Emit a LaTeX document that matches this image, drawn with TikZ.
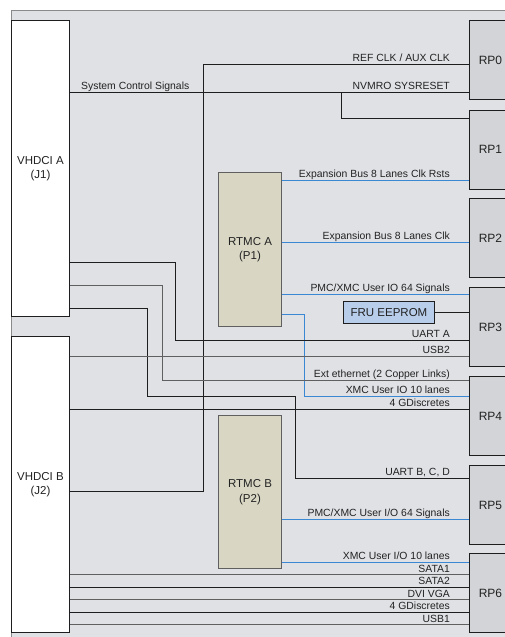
\documentclass[tikz,border=0pt]{standalone}
\usepackage{fontspec}
\setmainfont{Liberation Sans}
\definecolor{bgc}{HTML}{E0E1E5}
\definecolor{framec}{HTML}{8A8A8A}
\definecolor{rpc}{HTML}{D3D4D7}
\definecolor{rtc}{HTML}{D9D7C4}
\definecolor{fruc}{HTML}{B8CDEA}
\definecolor{bluec}{HTML}{3A88D4}
\definecolor{txtc}{HTML}{222222}
\definecolor{linek}{HTML}{1E1E1E}
\definecolor{lineg}{HTML}{606060}
\begin{document}
\begin{tikzpicture}[x=1pt,y=-1pt,
  boxw/.style={draw=linek, line width=0.9pt, fill=white, anchor=north west, inner sep=0pt, align=center, text=txtc, font=\fontsize{11.5}{14}\selectfont},
  rpbox/.style={draw=linek, line width=0.9pt, fill=rpc, anchor=north west, inner sep=0pt, minimum width=42pt, minimum height=79pt, text=txtc, font=\fontsize{12}{14}\selectfont},
  rtbox/.style={draw=lineg, line width=1pt, fill=rtc, anchor=north west, inner sep=0pt, minimum width=63pt, align=center, text=txtc, font=\fontsize{11.5}{14.5}\selectfont},
  frubox/.style={draw=linek, line width=0.9pt, fill=fruc, anchor=north west, inner sep=0pt, minimum width=91pt, minimum height=22pt, text=txtc, font=\fontsize{11.5}{14}\selectfont},
  lab/.style={anchor=base east, inner sep=0pt, text=txtc, font=\fontsize{10.4}{12}\selectfont},
  sigk/.style={draw=linek, line width=0.8pt},
  sigg/.style={draw=lineg, line width=1pt},
  sigb/.style={draw=bluec, line width=0.9pt}]
\useasboundingbox (0,0) rectangle (505,637);
\clip (0,0) rectangle (505,637);
% background frame
\fill[bgc] (11,10) rectangle (520,650);
\draw[framec, line width=1pt] (11,650) -- (11,10) -- (520,10);

% connectors J1/J2
\node[boxw, minimum width=58pt, minimum height=296pt] (vA) at (11,20) {VHDCI A\\(J1)};
\node[boxw, minimum width=58pt, minimum height=296pt] (vB) at (11,336) {VHDCI B\\(J2)};

% RP boxes
\node[rpbox] (rp0) at (469,20) {RP0};
\node[rpbox] (rp1) at (469,109.5) {RP1};
\node[rpbox] (rp2) at (469,198) {RP2};
\node[rpbox] (rp3) at (469,287) {RP3};
\node[rpbox] (rp4) at (469,376) {RP4};
\node[rpbox] (rp5) at (469,465) {RP5};
\node[rpbox] (rp6) at (469,553) {RP6};

% RTMC boxes
\node[rtbox, minimum height=154pt] (rtA) at (218,172) {RTMC A\\(P1)};
\node[rtbox, minimum height=153pt] (rtB) at (218,415) {RTMC B\\(P2)};

% FRU
\node[frubox] (fru) at (343,301) {FRU EEPROM};

% ---- signals ----
\draw[sigk] (vB.east |- 0,491) -| (203,64) -- (rp0.west |- 0,64);
\node[lab] (l1) at (450,61) {REF CLK / AUX CLK};

\draw[sigk] (vA.east |- 0,92) -- (rp0.west |- 0,92);
\node[lab, anchor=base west] (l2) at (81,89) {System Control Signals};
\node[lab] (l3) at (450,89) {NVMRO SYSRESET};
\coordinate (br) at (341,92);
\draw[sigk] (br) |- (rp1.west |- 0,118);

\draw[sigb] (rtA.east |- 0,180) -- (rp1.west |- 0,180);
\node[lab] (l4) at (450,177) {Expansion Bus 8 Lanes Clk Rsts};

\draw[sigb] (rtA.east |- 0,242) -- (rp2.west |- 0,242);
\node[lab] (l5) at (450,239) {Expansion Bus 8 Lanes Clk};

\draw[sigb] (rtA.east |- 0,294) -- (rp3.west |- 0,294);
\node[lab] (l6) at (450,291) {PMC/XMC User IO 64 Signals};

\draw[sigk] (fru.east) -- (rp3.west |- fru.east);

\draw[sigb] (rtA.east |- 0,314) -- (304,314) |- (rp4.west |- 0,396);
\node[lab] (l7) at (450,393) {XMC User IO 10 lanes};

\draw[sigk] (vA.east |- 0,262) -- (175,262) |- (rp3.west |- 0,340);
\node[lab] (l8) at (450,337) {UART A};

\draw[sigg] (vA.east |- 0,285) -- (162,285) |- (rp4.west |- 0,380);
\node[lab] (l9) at (450,377) {Ext ethernet (2 Copper Links)};

\draw[sigk] (vA.east |- 0,308) -- (147,308) |- (295,396) |- (rp5.west |- 0,478);
\node[lab] (l10) at (450,475) {UART B, C, D};

\draw[sigg] (vB.east |- 0,356) -- (rp3.west |- 0,356);
\node[lab] (l11) at (450,353) {USB2};

\draw[sigk] (vB.east |- 0,409) -- (rp4.west |- 0,409);
\node[lab] (l12) at (450,406) {4 GDiscretes};

\draw[sigb] (rtB.east |- 0,519) -- (rp5.west |- 0,519);
\node[lab] (l13) at (450,516) {PMC/XMC User I/O 64 Signals};

\draw[sigb] (rtB.east |- 0,562) -- (rp6.west |- 0,562);
\node[lab] (l14) at (450,559) {XMC User I/O 10 lanes};

\draw[sigg] (vB.east |- 0,574.5) -- (rp6.west |- 0,574.5);
\node[lab] (l15) at (450,572) {SATA1};
\draw[sigk] (vB.east |- 0,587) -- (rp6.west |- 0,587);
\node[lab] (l16) at (450,584.5) {SATA2};
\draw[sigg] (vB.east |- 0,599.5) -- (rp6.west |- 0,599.5);
\node[lab] (l17) at (450,597) {DVI VGA};
\draw[sigk] (vB.east |- 0,612) -- (rp6.west |- 0,612);
\node[lab] (l18) at (450,609.5) {4 GDiscretes};
\draw[sigg] (vB.east |- 0,624.5) -- (rp6.west |- 0,624.5);
\node[lab] (l19) at (450,622) {USB1};
\end{tikzpicture}
\end{document}
